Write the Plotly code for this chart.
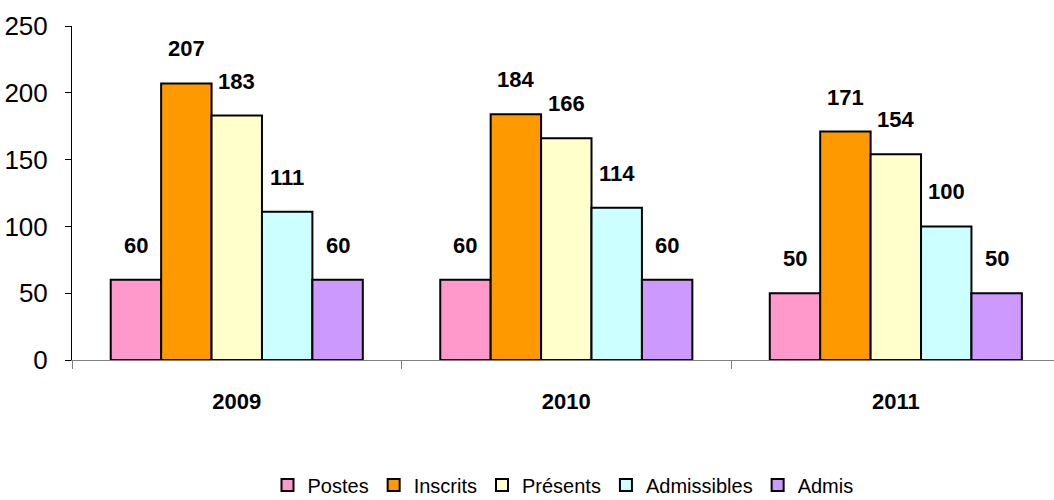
import plotly.graph_objects as go

# Candidates per year, by stage
years = ["2009", "2010", "2011"]
series_names = ["Postes", "Inscrits", "Présents", "Admissibles", "Admis"]
postes = [60, 60, 50]
inscrits = [207, 184, 171]
presents = [183, 166, 154]
admissibles = [111, 114, 100]
admis = [60, 60, 50]
y_ticks = [0, 50, 100, 150, 200, 250]

series_values = [postes, inscrits, presents, admissibles, admis]
colors = ["#FF99CC", "#FF9900", "#FFFFCC", "#CCFFFF", "#CC99FF"]

FONT = "Liberation Sans, Arial, sans-serif"
BAR_GAP = 0.235
n_series = len(series_names)
bar_w = (1 - BAR_GAP) / n_series

fig = go.Figure()
for name, vals, col in zip(series_names, series_values, colors):
    fig.add_trace(go.Bar(
        name=name,
        x=years,
        y=vals,
        marker=dict(color=col, line=dict(color="black", width=2)),
        hoverinfo="skip",
    ))

# Value labels above each bar, centred on the bar within its group
annotations = []
for j, vals in enumerate(series_values):
    for i, v in enumerate(vals):
        xc = i - (1 - BAR_GAP) / 2 + (j + 0.5) * bar_w
        annotations.append(dict(
            x=xc, y=v, xref="x", yref="y",
            text=str(v), showarrow=False,
            yanchor="bottom", xanchor="center", yshift=20,
            font=dict(family=FONT, size=22, color="black", weight="bold"),
        ))

fig.update_layout(
    width=1054, height=500,
    margin=dict(l=72, r=0, t=26, b=140, autoexpand=False),
    paper_bgcolor="white", plot_bgcolor="white",
    barmode="group", bargap=BAR_GAP, bargroupgap=0,
    showlegend=True,
    legend=dict(
        orientation="h", x=0.5, xanchor="center", y=-0.374, yanchor="middle",
        font=dict(family=FONT, size=20, color="black"),
        traceorder="normal", itemwidth=30,
    ),
    annotations=annotations,
    xaxis=dict(
        type="category", range=[-0.5, 2.48],
        tickson="boundaries", ticks="outside", ticklen=8, tickcolor="#808080",
        showline=True, linecolor="#808080", linewidth=1,
        showgrid=False, zeroline=False,
        tickfont=dict(family=FONT, size=22, color="black", weight="bold"),
        ticklabelstandoff=22,
    ),
    yaxis=dict(
        range=[0, 250], tickvals=y_ticks,
        ticks="outside", ticklen=6, tickcolor="black",
        showline=True, linecolor="black", linewidth=1,
        showgrid=False, zeroline=False,
        tickfont=dict(family=FONT, size=26, color="black"),
        ticklabelstandoff=12,
    ),
)

fig.write_html("out.html")
